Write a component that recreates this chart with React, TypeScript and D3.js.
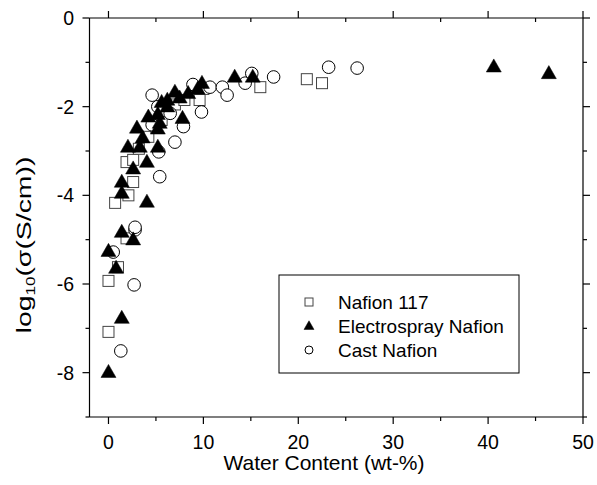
import React from "react";
import * as d3 from "d3";

const nafion117: [number, number][] = [
  [0, -7.08], [0, -5.93], [1.0, -5.62], [1.9, -4.97], [0.7, -4.17], [2.1, -4.0],
  [2.6, -3.7], [1.9, -3.25], [2.6, -3.2], [3.2, -2.95], [4.2, -2.68], [5.0, -2.45],
  [5.6, -2.3], [6.2, -2.1], [7.0, -1.95], [8.0, -1.85], [9.6, -1.85], [10.0, -1.6],
  [16.0, -1.56], [20.9, -1.38], [22.5, -1.47],
];

const electrospray: [number, number][] = [
  [0, -7.99], [1.4, -6.77], [0.8, -5.64], [0, -5.26], [1.4, -4.83], [2.6, -5.0],
  [4.05, -4.15], [1.4, -3.95], [1.4, -3.7], [2.6, -3.4], [4.05, -3.25], [2.05, -2.91],
  [3.3, -2.91], [5.2, -2.91], [3.6, -2.7], [3.0, -2.48], [5.2, -2.5], [4.2, -2.23],
  [5.2, -2.17], [5.4, -2.37], [6.2, -2.0], [5.6, -1.9], [7.0, -1.67], [6.2, -1.85],
  [7.8, -2.26], [7.5, -1.8], [8.4, -1.7], [9.4, -1.6], [9.85, -1.47], [13.3, -1.33],
  [15.2, -1.33], [40.6, -1.1], [46.4, -1.25],
];

const castNafion: [number, number][] = [
  [1.3, -7.51], [2.7, -6.02], [0.5, -5.28], [2.8, -4.78], [2.8, -4.72], [5.4, -3.58],
  [5.3, -3.02], [7.0, -2.8], [4.6, -2.41], [7.9, -2.45], [9.8, -2.12], [4.6, -1.74],
  [5.2, -2.0], [6.5, -2.15], [8.9, -1.5], [10.7, -1.56], [12.0, -1.56], [12.5, -1.74],
  [14.4, -1.47], [15.1, -1.25], [17.4, -1.33], [23.2, -1.11], [26.2, -1.13],
];

const xMajor = [0, 10, 20, 30, 40, 50];
const xMinor = [5, 15, 25, 35, 45];
const yMajor = [0, -2, -4, -6, -8];
const yMinor = [-1, -3, -5, -7, -9];
const legendLabels = ["Nafion 117", "Electrospray Nafion", "Cast Nafion"];

const FONT = "'Liberation Sans', Arial, sans-serif";

function Square({ cx, cy, s }: { cx: number; cy: number; s: number }) {
  return <rect x={cx - s / 2} y={cy - s / 2} width={s} height={s} fill="#fff" stroke="#444" strokeWidth={1} />;
}
function Tri({ cx, cy, s }: { cx: number; cy: number; s: number }) {
  const h = s * 0.87;
  return <path d={`M${cx},${cy - h * 0.6}L${cx + s / 2},${cy + h * 0.4}L${cx - s / 2},${cy + h * 0.4}Z`} fill="#000" stroke="#000" strokeWidth={0.5} />;
}
function Circ({ cx, cy, r }: { cx: number; cy: number; r: number }) {
  return <circle cx={cx} cy={cy} r={r} fill="#fff" stroke="#000" strokeWidth={1} />;
}

export default function App() {
  const L = 89.5, R = 583, T = 18, B = 417;
  const x = d3.scaleLinear().domain([-2, 50]).range([L, R]);
  const y = d3.scaleLinear().domain([-9, 0]).range([B, T]);
  const major = 7, minor = 4;

  return (
    <svg width={597} height={485} style={{ position: "absolute", left: 0, top: 0, background: "#fff" }} fontFamily={FONT}>
      <rect width={597} height={485} fill="#fff" />
      <g stroke="#000" strokeWidth={1.2} fill="none">
        <line x1={L} x2={R} y1={T} y2={T} />
        <line x1={L} x2={R} y1={B} y2={B} />
        <line x1={L} x2={L} y1={T} y2={B} />
        <line x1={R} x2={R} y1={T} y2={B} />
        {xMajor.map((v) => (
          <g key={"xm" + v}>
            <line x1={x(v)} x2={x(v)} y1={B} y2={B + major} />
            <line x1={x(v)} x2={x(v)} y1={T} y2={T - major} />
          </g>
        ))}
        {xMinor.map((v) => (
          <g key={"xn" + v}>
            <line x1={x(v)} x2={x(v)} y1={B} y2={B + minor} />
            <line x1={x(v)} x2={x(v)} y1={T} y2={T + minor} />
          </g>
        ))}
        {yMajor.map((v) => (
          <g key={"ym" + v}>
            <line x1={L} x2={L - major} y1={y(v)} y2={y(v)} />
            <line x1={R} x2={R + major} y1={y(v)} y2={y(v)} />
          </g>
        ))}
        {yMinor.map((v) => (
          <g key={"yn" + v}>
            <line x1={L} x2={L - minor} y1={y(v)} y2={y(v)} />
            <line x1={R} x2={R + minor} y1={y(v)} y2={y(v)} />
          </g>
        ))}
      </g>
      <g fontSize={19.5} fill="#000">
        {xMajor.map((v) => (
          <text key={"xl" + v} x={x(v)} y={449} textAnchor="middle">{v}</text>
        ))}
        {yMajor.map((v) => (
          <text key={"yl" + v} x={74} y={y(v) + 7} textAnchor="end">{v === 0 ? "0" : "-" + Math.abs(v)}</text>
        ))}
      </g>
      <text x={324} y={470} textAnchor="middle" fontSize={21}>Water Content (wt-%)</text>
      <text transform="translate(31,245) rotate(-90) scale(1.42,1)" textAnchor="middle" fontSize={20}>
        log<tspan fontSize={12} dy={4}>10</tspan><tspan dy={-4}>(σ(S/cm))</tspan>
      </text>
      <g>
        {nafion117.map((d, i) => <Square key={"s" + i} cx={x(d[0])} cy={y(d[1])} s={11} />)}
        {castNafion.map((d, i) => <Circ key={"c" + i} cx={x(d[0])} cy={y(d[1])} r={6.3} />)}
        {electrospray.map((d, i) => <Tri key={"t" + i} cx={x(d[0])} cy={y(d[1])} s={15} />)}
      </g>
      <rect x={279} y={275} width={240} height={98} fill="#fff" stroke="#000" strokeWidth={1} />
      <Square cx={309} cy={302} s={8} />
      <Tri cx={309} cy={326} s={10} />
      <Circ cx={309} cy={350} r={4} />
      {legendLabels.map((t, i) => (
        <text key={t} x={338} y={309 + i * 24} fontSize={19}>{t}</text>
      ))}
    </svg>
  );
}
